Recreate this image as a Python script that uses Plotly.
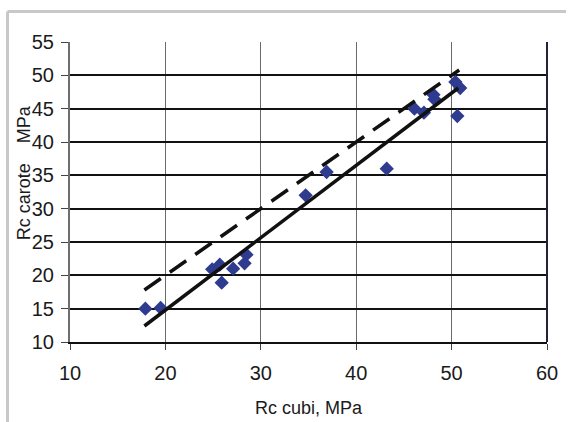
import plotly.graph_objects as go

# Data
cube_strength = [17.9, 19.5, 24.9, 25.7, 25.9, 27.1, 28.3, 28.5, 34.7, 36.9,
                 43.2, 46.1, 47.1, 48.1, 48.2, 50.4, 50.9, 50.6]
core_strength = [15.0, 15.1, 20.9, 21.6, 18.9, 21.0, 21.8, 23.1, 32.0, 35.5,
                 36.0, 45.0, 44.4, 47.1, 46.4, 49.0, 48.1, 43.9]
fit_x = [17.8, 50.7]
fit_y = [12.4, 48.1]
identity_x = [17.8, 50.8]
identity_y = [17.8, 50.8]

x_ticks = [10, 20, 30, 40, 50, 60]
y_ticks = [10, 15, 20, 25, 30, 35, 40, 45, 50, 55]

FONT = "Liberation Sans, Arial, sans-serif"

fig = go.Figure()
fig.add_trace(go.Scatter(
    x=cube_strength, y=core_strength, mode="markers",
    marker=dict(symbol="diamond", size=11, color="#2E3B8F", line=dict(width=0)),
    showlegend=False, hoverinfo="skip"))
fig.add_trace(go.Scatter(
    x=identity_x, y=identity_y, mode="lines",
    line=dict(color="#111111", width=3.5, dash="20px,11px"),
    showlegend=False, hoverinfo="skip"))
fig.add_trace(go.Scatter(
    x=fit_x, y=fit_y, mode="lines",
    line=dict(color="#111111", width=3.5),
    showlegend=False, hoverinfo="skip"))

fig.update_layout(
    width=570, height=422,
    margin=dict(l=70, r=17, t=42, b=80),
    paper_bgcolor="white", plot_bgcolor="white",
    font=dict(family=FONT, size=20, color="#1a1a1a"),
    xaxis=dict(range=[10, 60], tickvals=x_ticks, ticktext=[str(v) for v in x_ticks],
               showgrid=True, gridcolor="#6a6a6a", gridwidth=1,
               ticks="outside", ticklen=6, tickcolor="#444", tickwidth=1,
               showline=True, linecolor="#111", linewidth=2, zeroline=False,
               tickfont=dict(size=20), ticklabelstandoff=6),
    yaxis=dict(range=[10, 55], tickvals=y_ticks, ticktext=[str(v) for v in y_ticks],
               showgrid=True, gridcolor="#111", gridwidth=2,
               ticks="outside", ticklen=7, tickcolor="#444", tickwidth=1,
               showline=True, linecolor="#6e6e6e", linewidth=2, zeroline=False,
               tickfont=dict(size=20), ticklabelstandoff=3),
    annotations=[
        dict(text="Rc cubi, MPa", xref="paper", yref="paper", x=0.5, y=-0.22,
             xanchor="center", yanchor="middle", showarrow=False,
             font=dict(size=18, color="#1a1a1a")),
        dict(text="Rc carote\u00a0\u00a0\u00a0\u00a0MPa", xref="paper", yref="paper",
             x=-0.097, y=0.565, textangle=-90,
             xanchor="center", yanchor="middle", showarrow=False,
             font=dict(size=18, color="#1a1a1a")),
    ],
    shapes=[
        dict(type="line", xref="paper", yref="paper", x0=-0.131, x1=1.04, y0=1.102, y1=1.102,
             line=dict(color="#c8c8c8", width=3)),
        dict(type="line", xref="paper", yref="paper", x0=-0.131, x1=-0.131, y0=1.102, y1=-0.27,
             line=dict(color="#c8c8c8", width=3)),
        dict(type="line", xref="paper", yref="paper", x0=1, x1=1, y0=0, y1=1,
             line=dict(color="#223", width=2)),
    ],
)

fig.write_html("out.html", config={"displayModeBar": False},
               post_script="document.body.style.margin='0';")
